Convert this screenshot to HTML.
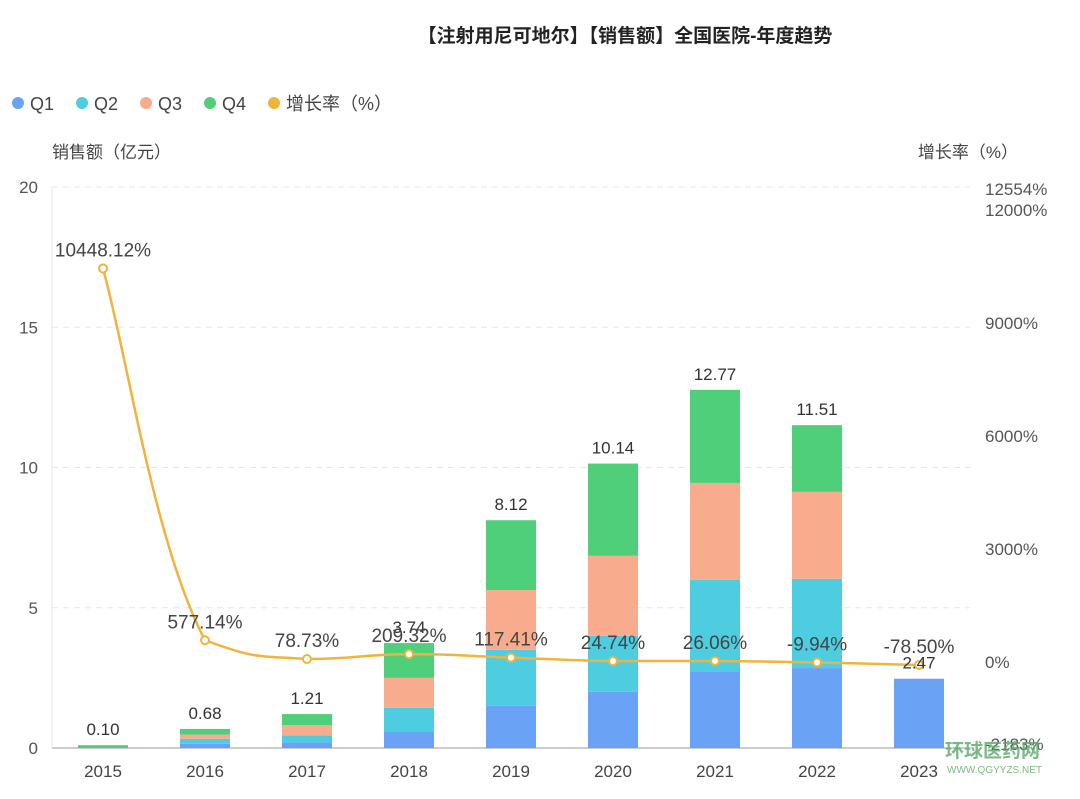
<!DOCTYPE html>
<html><head><meta charset="utf-8"><style>
body{margin:0;background:#fff;width:1080px;height:794px;overflow:hidden;font-family:"Liberation Sans","Noto Sans CJK SC",sans-serif}
svg text{font-family:"Liberation Sans","Noto Sans CJK SC",sans-serif}
</style></head><body>
<svg id="chart" width="1080" height="794" xmlns="http://www.w3.org/2000/svg">
<text x="625" y="42" text-anchor="middle" font-size="19" font-weight="bold" fill="#222">【注射用尼可地尔】【销售额】全国医院-年度趋势</text>
<g id="legend"></g>
<text x="52" y="158" font-size="17" fill="#444">销售额（亿元）</text>
<text x="1018" y="158" text-anchor="end" font-size="17" fill="#444">增长率（%）</text>
<g id="grid"></g><g id="bars"></g><g id="line"></g><g id="labels"></g><g id="axes"></g>
<text x="945" y="757" font-size="19" font-weight="bold" fill="#5aa868" opacity="0.8">环球医药网</text>
<text x="947" y="773" font-size="10" fill="#5aa868" opacity="0.8">WWW.QGYYZS.NET</text>
</svg>
<script>
const categories=["2015","2016","2017","2018","2019","2020","2021","2022","2023"];
const q1=[0,0.15,0.2,0.57,1.5,2.0,2.71,2.85,2.47];
const q2=[0,0.18,0.25,0.86,2.0,2.0,3.29,3.18,0];
const q3=[0,0.15,0.36,1.07,2.13,2.85,3.45,3.1,0];
const q4=[0.10,0.2,0.4,1.24,2.49,3.29,3.32,2.38,0];
const totals=["0.10","0.68","1.21","3.74","8.12","10.14","12.77","11.51","2.47"];
const growth=[10448.12,577.14,78.73,209.32,117.41,24.74,26.06,-9.94,-78.50];
const yTicks=[0,5,10,15,20];
const y2Ticks=[-2183,0,3000,6000,9000,12000,12554];
const colors=["#6aa3f5","#4fcde0","#f9ac8d","#4fcf7a"];
const lineColor="#f0b43c";
const NS="http://www.w3.org/2000/svg";
function mk(t,a,p){const e=document.createElementNS(NS,t);for(const k in a)e.setAttribute(k,a[k]);p.appendChild(e);return e;}
const X0=52,X1=970,step=102,first=103;
const x=i=>first+i*step;
const y=v=>748-v*28.05;
const y2=v=>662-v*113/3000;
const grid=document.getElementById('grid'),bars=document.getElementById('bars'),line=document.getElementById('line'),labels=document.getElementById('labels'),axes=document.getElementById('axes'),legend=document.getElementById('legend');
yTicks.forEach(t=>{
  if(t>0){const g=mk('line',{x1:X0,x2:X1,y1:y(t),y2:y(t),stroke:'#e3e8ef','stroke-dasharray':'6,5'},grid);
  
  }
  const l=mk('text',{x:38,y:y(t)+6,'text-anchor':'end','font-size':17,fill:'#555'},axes);l.textContent=t;
  
  
});
y2Ticks.forEach(t=>{
  const l=mk('text',{x:985,y:y2(t)+6,'font-size':17,fill:'#555'},axes);l.textContent=t+'%';
  
  
});
const ax=mk('line',{x1:X0,x2:X1,y1:748,y2:748,stroke:'#999'},axes);


const vax=mk('line',{x1:X0,x2:X0,y1:187,y2:748,stroke:'#e3e8ef'},axes);


categories.forEach((c,i)=>{
  const l=mk('text',{x:x(i),y:777,'text-anchor':'middle','font-size':17,fill:'#444'},axes);l.textContent=c;
  
  
  let base=0;
  [q1,q2,q3,q4].forEach((s,k)=>{
    const v=s[i]; if(v<=0)return;
    const r=mk('rect',{x:x(i)-25,y:y(base+v),width:50,height:v*28.05,fill:colors[k]},bars);
    
    
    base+=v;
  });
  const tl=mk('text',{x:x(i),y:y(base)-10,'text-anchor':'middle','font-size':17,fill:'#333'},labels);tl.textContent=totals[i];
  
  
});
const pts=growth.map((g,i)=>[x(i),y2(g)]);
let d='M'+pts[0][0]+','+pts[0][1];
for(let i=0;i<pts.length-1;i++){
  const p0=pts[Math.max(i-1,0)],p1=pts[i],p2=pts[i+1],p3=pts[Math.min(i+2,pts.length-1)];
  const t=0.25;
  let c1y=p1[1]+(p2[1]-p0[1])*t, c2y=p2[1]-(p3[1]-p1[1])*t;
  const lo=Math.min(p1[1],p2[1]),hi=Math.max(p1[1],p2[1]);
  c1y=Math.max(lo,Math.min(hi,c1y));c2y=Math.max(lo,Math.min(hi,c2y));
  d+=` C${p1[0]+(p2[0]-p0[0])*t},${c1y} ${p2[0]-(p3[0]-p1[0])*t},${c2y} ${p2[0]},${p2[1]}`;
}
const pl=mk('path',{d:d,fill:'none',stroke:lineColor,'stroke-width':2.5},line);


pts.forEach((p,i)=>{
  const c=mk('circle',{cx:p[0],cy:p[1],r:4,fill:'#fff',stroke:lineColor,'stroke-width':2},line);
  
  
  const l=mk('text',{x:p[0],y:p[1]-12,'text-anchor':'middle','font-size':19,fill:'#444'},labels);
  l.textContent=growth[i].toFixed(2)+'%';
  
  
});
const leg=[['Q1',colors[0]],['Q2',colors[1]],['Q3',colors[2]],['Q4',colors[3]],['增长率（%）',lineColor]];
let lx=12;
leg.forEach(([n,col])=>{
  const c=mk('circle',{cx:lx+6,cy:103,r:6,fill:col},legend);
  
  
  const t=mk('text',{x:lx+18,y:110,'font-size':18,fill:'#444'},legend);t.textContent=n;
  
  
  lx+=n.length>2?0:64;
});
</script>
</body></html>
